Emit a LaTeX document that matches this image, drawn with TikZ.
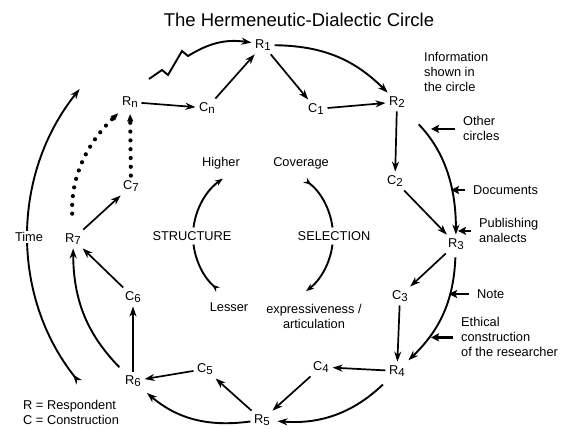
\documentclass[tikz,border=0pt]{standalone}
\usepackage{fontspec}
\setmainfont{Liberation Sans}
\usetikzlibrary{arrows.meta}
\newcommand\lo[1]{\raisebox{-2.5pt}{\fontsize{11.5}{12}\selectfont #1}}
\begin{document}
\begin{tikzpicture}[x=1pt,y=-1pt,
  every node/.style={font=\fontsize{12.8}{15}\selectfont},
  nd/.style={inner sep=3.5pt},
  lbl/.style={inner sep=0pt,align=left},
  arr/.style={line width=1.7pt,-{Stealth[length=10pt,width=7pt,inset=3pt]}},
  ring/.style={line width=1.9pt,-{Stealth[length=10pt,width=7pt,inset=3pt]}},
  inarc/.style={line width=1.9pt},
  inend/.style={-{Stealth[length=8pt,width=6pt,inset=2.5pt]}},
  instart/.style={{Stealth[reversed,length=8pt,width=6pt,inset=2.5pt]}-},
  dotline/.style={line width=4.2pt,line cap=round,dash pattern=on 0pt off 8.8pt,
    -{Triangle[length=7pt,width=6pt,line width=0.1pt,sep=3pt]}},
  sidearr/.style={line width=2.6pt,shorten <=8pt,-{Stealth[length=8pt,width=8pt,inset=1.5pt]}}
]
\useasboundingbox (0,0) rectangle (562,429);

% title
\node[font=\fontsize{18.5}{22}\selectfont] (title) at (299,20) {The Hermeneutic-Dialectic Circle};

% centres
\coordinate (O) at (263,236);

% R nodes
\node[nd] (R1) at (263,45) {R\lo{1}};
\node[nd] (R2) at (397,102) {R\lo{2}};
\node[nd] (R3) at (456,244) {R\lo{3}};
\node[nd] (R4) at (397,371) {R\lo{4}};
\node[nd] (R5) at (262,420) {R\lo{5}};
\node[nd] (R6) at (133,381) {R\lo{6}};
\node[nd] (R7) at (73,239) {R\lo{7}};
\node[nd] (Rn) at (130,102) {R\lo{n}};

% C nodes
\node[nd] (C1) at (316,109) {C\lo{1}};
\node[nd] (Cn) at (207,108) {C\lo{n}};
\node[nd] (C2) at (395,181) {C\lo{2}};
\node[nd] (C3) at (400,296) {C\lo{3}};
\node[nd] (C4) at (321,367) {C\lo{4}};
\node[nd] (C5) at (205,369) {C\lo{5}};
\node[nd] (C6) at (133,297) {C\lo{6}};
\node[nd] (C7) at (131,186) {C\lo{7}};

% straight connectors
\draw[arr] (R1) -- (C1);
\draw[arr] (C1) -- (R2);
\draw[arr] (R2) -- (C2);
\draw[arr] (C2) -- (R3);
\draw[arr] (R3) -- (C3);
\draw[arr] (C3) -- (R4);
\draw[arr] (R4) -- (C4);
\draw[arr] (C4) -- (R5);
\draw[arr] (R5) -- (C5);
\draw[arr] (C5) -- (R6);
\draw[arr] (R6) -- (C6);
\draw[arr] (C6) -- (R7);
\draw[arr] (R7) -- (C7);
\draw[arr] (Rn) -- (Cn);
\draw[arr] (Cn) -- (R1);

% outer ring arcs
\draw[ring] (R1) to[bend left=22] (R2);
\draw[ring,shorten <=18pt] (R2) to[bend left=22] (R3);
\draw[ring,shorten <=4pt,shorten >=2pt] (R3) to[bend left=22] (R4);
\draw[ring,shorten <=6pt,shorten >=4pt] (R4) to[bend left=24] (R5);
\draw[ring,shorten >=4pt] (R5) to[bend left=24] (R6);
\draw[ring,shorten <=6pt] (R6) to[bend left=22] (R7);

% zigzag
\coordinate (z1) at (149,79);
\coordinate (z2) at (162,70);
\coordinate (z3) at (168,75);
\coordinate (z4) at (182,51);
\coordinate (z5) at (188,56);
\draw[ring,miter limit=10] (z1) -- (z2) -- (z3) -- (z4) -- (z5) to[bend left=20] (R1);

% dotted connectors
\draw[dotline,shorten <=16pt] (R7) to[bend left=24] (Rn);
\draw[dotline,shorten <=1pt] (C7) -- (Rn);

% time arc
\coordinate (tb) at ([shift={(141.5:235)}]O);
\draw[inarc,{Stealth[reversed,length=10pt,width=7pt,inset=3pt]}-{Stealth[length=10pt,width=7pt,inset=3pt]}]
  (tb) arc[start angle=-141.5,end angle=-218.7,radius=235pt];
\node[fill=white,inner sep=1.5pt] (time) at (29,237) {Time};

% inner structure / selection
\coordinate (ic) at (263,236);
\draw[inarc,inend] ([shift={(187:70)}]ic) arc[start angle=-187,end angle=-235,radius=70pt];
\draw[inarc,instart] ([shift={(130:70)}]ic) arc[start angle=-130,end angle=-173,radius=70pt];
\draw[inarc,instart] ([shift={(307:70)}]ic) arc[start angle=-307,end angle=-353,radius=70pt];
\draw[inarc,inend] ([shift={(7:70)}]ic) arc[start angle=-7,end angle=-52,radius=70pt];

\node (higher) at (221,163) {Higher};
\node (coverage) at (301,163) {Coverage};
\node (structure) at (192,236) {STRUCTURE};
\node (selection) at (334,236) {SELECTION};
\node (lesser) at (229,307) {Lesser};
\node[align=center,anchor=north] (expr) at (314,301) {expressiveness /\\articulation};

% side labels
\node[lbl,anchor=north west] (info) at (424,52.5) {Information\\shown in\\the circle};
\node[lbl,anchor=north west] (other) at (463,116.5) {Other\\circles};
\node[lbl,anchor=west] (docs) at (473,190) {Documents};
\node[lbl,anchor=north west] (publ) at (479,218.5) {Publishing\\analects};
\node[lbl,anchor=west] (note) at (477,294) {Note};
\node[lbl,anchor=north west] (ethic) at (461,317.5) {Ethical\\construction\\of the researcher};

\coordinate (tOther) at (431,0);
\coordinate (tDocs) at (451,0);
\coordinate (tPubl) at (458,0);
\coordinate (tNote) at (449,0);
\coordinate (tEthic) at (431,0);
\draw[sidearr] (other.west) -- (tOther |- other.west);
\draw[sidearr] (docs.west) -- (tDocs |- docs.west);
\draw[sidearr] (publ.west) -- (tPubl |- publ.west);
\draw[sidearr] (note.west) -- (tNote |- note.west);
\draw[sidearr] (ethic.west) -- (tEthic |- ethic.west);

% legend
\node[lbl,anchor=north west] (legend) at (23,400.5) {R = Respondent\\C = Construction};
\end{tikzpicture}
\end{document}
